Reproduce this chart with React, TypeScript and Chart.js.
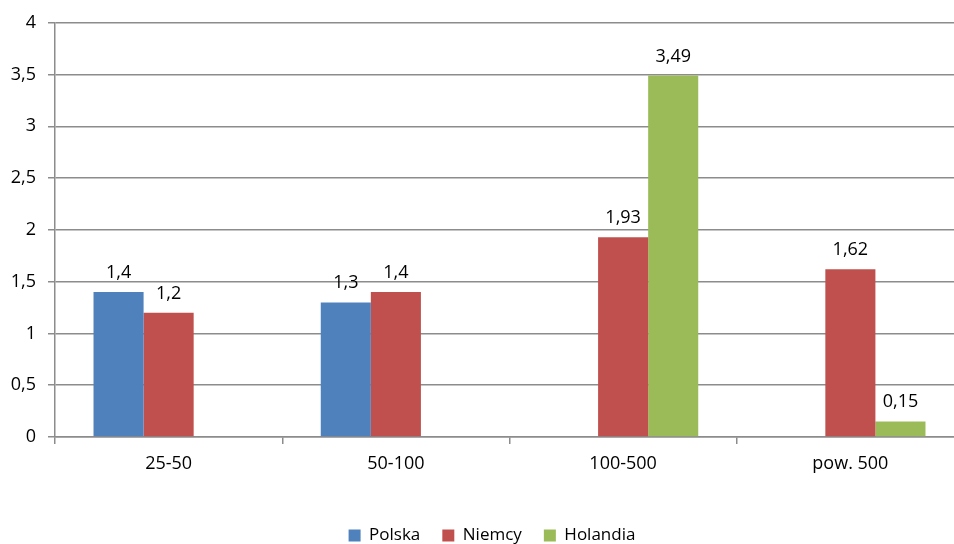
import React, { useEffect, useRef } from "react";
import { Chart, registerables } from "chart.js";

Chart.register(...registerables);

const categories = ["25-50", "50-100", "100-500", "pow. 500"];
const polska = [1.4, 1.3, null, null];
const niemcy = [1.2, 1.4, 1.93, 1.62];
const holandia = [null, null, 3.49, 0.15];
const seriesNames = ["Polska", "Niemcy", "Holandia"];
const seriesColors = ["#4F81BD", "#C0504D", "#9BBB59"];

const FONT = "'Open Sans', 'DejaVu Sans', sans-serif";
const GRID = "#8c8c8c";

const fmt = (v: number) => String(v).replace(".", ",");

const valueLabels = {
  id: "valueLabels",
  afterDatasetsDraw(chart: any) {
    const ctx = chart.ctx;
    ctx.save();
    ctx.font = `18px ${FONT}`;
    ctx.fillStyle = "#000";
    ctx.textAlign = "center";
    ctx.textBaseline = "alphabetic";
    chart.data.datasets.forEach((ds: any, i: number) => {
      const meta = chart.getDatasetMeta(i);
      meta.data.forEach((el: any, j: number) => {
        const v = ds.data[j];
        if (v === null || v === undefined) return;
        ctx.fillText(fmt(v), el.x, el.y - 14);
      });
    });
    ctx.restore();
  },
};

const legendShift = {
  id: "legendShift",
  afterLayout(chart: any) {
    const lg = chart.legend;
    if (lg) {
      lg.left += 10;
      lg.right += 10;
    }
  },
};

export default function App() {
  const ref = useRef<HTMLCanvasElement | null>(null);
  useEffect(() => {
    if (!ref.current) return;
    const chart = new Chart(ref.current, {
      type: "bar",
      data: {
        labels: categories,
        datasets: [polska, niemcy, holandia].map((d, i) => ({
          label: seriesNames[i],
          data: d,
          backgroundColor: seriesColors[i],
          borderWidth: 0,
          barPercentage: 1,
          categoryPercentage: 0.661,
        })),
      },
      options: {
        responsive: false,
        animation: false,
        devicePixelRatio: 1,
        layout: { padding: { top: 12, left: 0, right: 0, bottom: 0 } },
        scales: {
          x: {
            offset: true,
            grid: {
              offset: true,
              drawOnChartArea: false,
              drawTicks: true,
              tickLength: 7,
              color: GRID,
              lineWidth: 1.5,
            },
            border: { color: GRID, width: 1.5 },
            ticks: {
              color: "#000",
              font: { family: FONT, size: 18 },
              padding: 9,
            },
            afterFit: (s: any) => {
              s.height = 68;
            },
          },
          y: {
            min: 0,
            max: 4,
            ticks: {
              stepSize: 0.5,
              color: "#000",
              font: { family: FONT, size: 18 },
              padding: 12,
              callback: (v: any) => fmt(Number(v)),
            },
            grid: {
              color: GRID,
              lineWidth: 1.5,
              tickLength: 7,
            },
            border: { color: GRID, width: 1.5 },
            afterFit: (s: any) => {
              s.width = 55;
            },
          },
        },
        plugins: {
          legend: {
            position: "bottom",
            labels: {
              color: "#000",
              font: { family: FONT, size: 17 },
              boxWidth: 12,
              boxHeight: 12,
              padding: 22,
            },
          },
          tooltip: { enabled: false },
        },
      },
      plugins: [valueLabels, legendShift],
    });
    return () => chart.destroy();
  }, []);
  return (
    <div
      style={{
        position: "fixed",
        left: 0,
        top: 0,
        width: 954,
        height: 544,
        overflow: "hidden",
        background: "#fff",
      }}
    >
      <canvas ref={ref} width={964} height={554} style={{ display: "block" }} />
    </div>
  );
}
